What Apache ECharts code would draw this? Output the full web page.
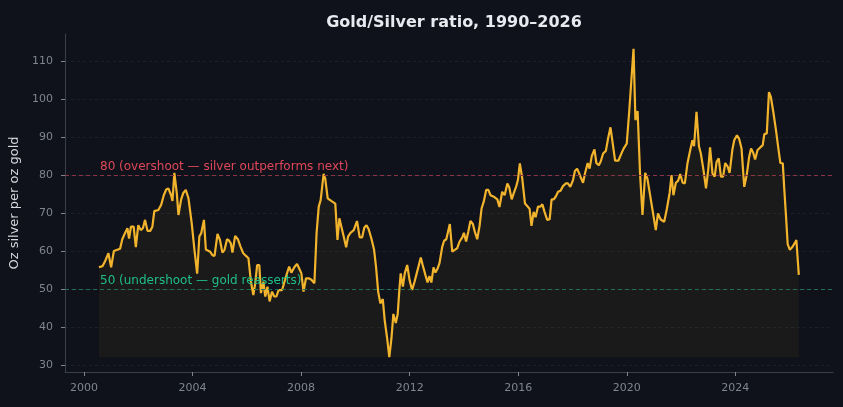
<!DOCTYPE html>
<html>
<head>
<meta charset="utf-8">
<title>Gold/Silver ratio</title>
<script src="https://cdn.jsdelivr.net/npm/echarts@6/dist/echarts.min.js"></script>
<style>
  html, body { margin: 0; padding: 0; background: #0f121a; }
  #chart { width: 843px; height: 407px; }
</style>
</head>
<body>
<div id="chart"></div>
<script>
// decimal years and the ratio
const years = [
  2000.55, 2000.68, 2000.77, 2000.90, 2001.00, 2001.10, 2001.17, 2001.33, 2001.41, 2001.51,
  2001.60, 2001.66, 2001.73, 2001.83, 2001.91, 2002.00, 2002.09, 2002.17, 2002.25, 2002.34,
  2002.44, 2002.52, 2002.59, 2002.74, 2002.84, 2002.94, 2003.03, 2003.11, 2003.21, 2003.26,
  2003.33, 2003.42, 2003.48, 2003.58, 2003.66, 2003.75, 2003.85, 2003.97, 2004.07, 2004.17,
  2004.25, 2004.32, 2004.42, 2004.49, 2004.56, 2004.65, 2004.73, 2004.81, 2004.92, 2005.01,
  2005.10, 2005.18, 2005.27, 2005.35, 2005.41, 2005.47, 2005.57, 2005.67, 2005.77, 2005.87,
  2005.97, 2006.06, 2006.15, 2006.24, 2006.31, 2006.38, 2006.46, 2006.52, 2006.61, 2006.68,
  2006.76, 2006.84, 2006.93, 2007.01, 2007.09, 2007.17, 2007.30, 2007.38, 2007.48, 2007.56,
  2007.64, 2007.75, 2007.85, 2007.93, 2008.01, 2008.09, 2008.18, 2008.28, 2008.38, 2008.49,
  2008.57, 2008.65, 2008.72, 2008.83, 2008.89, 2008.98, 2009.11, 2009.26, 2009.34, 2009.41,
  2009.48, 2009.57, 2009.66, 2009.73, 2009.82, 2009.94, 2010.06, 2010.16, 2010.25, 2010.33,
  2010.41, 2010.49, 2010.59, 2010.69, 2010.76, 2010.84, 2010.92, 2011.01, 2011.08, 2011.17,
  2011.25, 2011.33, 2011.40, 2011.49, 2011.56, 2011.62, 2011.67, 2011.75, 2011.82, 2011.91,
  2012.00, 2012.09, 2012.18, 2012.26, 2012.34, 2012.41, 2012.48, 2012.58, 2012.66, 2012.73,
  2012.80, 2012.88, 2012.95, 2013.03, 2013.10, 2013.20, 2013.27, 2013.35, 2013.42, 2013.48,
  2013.57, 2013.66, 2013.75, 2013.84, 2013.94, 2014.00, 2014.08, 2014.16, 2014.24, 2014.33,
  2014.40, 2014.49, 2014.58, 2014.65, 2014.73, 2014.82, 2014.90, 2014.98, 2015.10, 2015.23,
  2015.31, 2015.41, 2015.50, 2015.60, 2015.67, 2015.76, 2015.84, 2015.93, 2015.99, 2016.06,
  2016.15, 2016.25, 2016.34, 2016.42, 2016.49, 2016.57, 2016.64, 2016.73, 2016.82, 2016.89,
  2016.97, 2017.07, 2017.16, 2017.23, 2017.31, 2017.38, 2017.47, 2017.56, 2017.65, 2017.75,
  2017.83, 2017.92, 2018.02, 2018.09, 2018.17, 2018.24, 2018.31, 2018.39, 2018.46, 2018.56,
  2018.63, 2018.71, 2018.81, 2018.88, 2018.97, 2019.04, 2019.13, 2019.23, 2019.31, 2019.40,
  2019.48, 2019.57, 2019.69, 2019.74, 2019.82, 2019.90, 2020.00, 2020.09, 2020.17, 2020.25,
  2020.32, 2020.40, 2020.49, 2020.58, 2020.68, 2020.76, 2020.85, 2020.95, 2021.07, 2021.15,
  2021.25, 2021.38, 2021.48, 2021.58, 2021.65, 2021.72, 2021.81, 2021.89, 2021.97, 2022.06,
  2022.14, 2022.24, 2022.34, 2022.42, 2022.48, 2022.57, 2022.66, 2022.73, 2022.82, 2022.92,
  2023.00, 2023.07, 2023.16, 2023.24, 2023.31, 2023.39, 2023.47, 2023.55, 2023.63, 2023.72,
  2023.79, 2023.89, 2023.96, 2024.06, 2024.14, 2024.23, 2024.33, 2024.42, 2024.51, 2024.58,
  2024.66, 2024.73, 2024.82, 2024.92, 2025.01, 2025.07, 2025.16, 2025.24, 2025.31, 2025.40,
  2025.50, 2025.58, 2025.66, 2025.75, 2025.80, 2025.87, 2025.93, 2026.01, 2026.11, 2026.20,
  2026.25, 2026.34
];
const ratio = [
  55.7, 56.0, 57.2, 59.4, 55.7, 60.0, 60.5, 60.6, 63.1, 64.7,
  66.0, 63.3, 66.4, 66.4, 61.0, 66.8, 65.5, 66.0, 68.2, 65.3,
  65.3, 66.4, 70.5, 70.8, 72.1, 74.7, 76.2, 76.5, 74.7, 73.2,
  80.6, 75.2, 69.5, 73.6, 75.3, 76.1, 73.9, 67.3, 60.3, 54.0,
  63.8, 64.7, 68.2, 60.4, 60.7, 59.8, 58.9, 58.7, 64.5, 62.9,
  59.6, 60.3, 63.1, 62.7, 62.0, 59.6, 64.0, 63.1, 61.1, 59.4,
  58.7, 58.1, 51.9, 48.4, 51.5, 56.3, 56.3, 48.9, 51.9, 48.0,
  50.6, 46.7, 49.3, 48.0, 48.0, 49.7, 49.7, 51.7, 54.1, 55.9,
  54.3, 55.7, 56.6, 55.4, 54.1, 49.3, 52.8, 52.8, 52.4, 51.5,
  64.7, 71.7, 73.4, 80.3, 79.1, 73.9, 73.2, 72.5, 62.9, 68.6,
  68.6, 63.8, 61.0, 63.8, 64.8, 65.5, 67.9, 63.6, 63.6, 66.2,
  66.8, 65.7, 63.3, 60.3, 55.9, 49.3, 46.2, 47.3, 41.8, 37.0,
  32.0, 37.0, 43.4, 41.0, 43.4, 49.7, 54.1, 50.6, 54.1, 56.3,
  52.2, 49.7, 51.9, 54.1, 56.3, 58.3, 56.3, 53.7, 51.7, 53.4,
  51.7, 55.7, 54.3, 55.4, 56.8, 61.1, 62.7, 63.1, 63.1, 67.1,
  59.8, 60.3, 60.7, 62.5, 63.6, 64.8, 62.5, 65.1, 67.9, 67.1,
  65.1, 63.1, 66.8, 71.2, 73.0, 76.1, 76.1, 74.7, 74.3, 73.6,
  71.6, 75.6, 74.7, 77.8, 76.8, 73.6, 75.3, 77.1, 78.7, 83.1,
  79.1, 72.5, 71.8, 71.1, 66.6, 70.3, 68.9, 71.7, 71.7, 72.3,
  70.3, 68.2, 68.4, 73.6, 73.6, 74.3, 75.6, 75.9, 77.1, 77.8,
  77.8, 76.9, 78.7, 81.1, 81.7, 80.6, 79.3, 78.0, 80.4, 83.2,
  81.7, 85.0, 86.8, 83.2, 82.6, 83.6, 85.7, 86.4, 89.6, 92.6,
  88.5, 83.8, 83.8, 84.1, 86.0, 87.2, 88.3, 96.7, 105.0, 113.3,
  94.5, 96.9, 80.4, 69.5, 80.6, 79.1, 75.2, 70.8, 65.5, 69.9,
  68.3, 67.7, 71.2, 75.3, 80.0, 74.7, 78.0, 78.5, 80.3, 78.0,
  77.8, 83.2, 86.6, 89.2, 87.6, 96.7, 87.6, 85.7, 81.7, 76.5,
  81.3, 87.3, 80.4, 79.6, 83.5, 84.4, 79.6, 79.6, 83.2, 82.2,
  80.6, 86.6, 89.2, 90.5, 89.6, 87.0, 76.9, 80.0, 84.8, 87.0,
  85.9, 84.1, 86.6, 87.3, 87.9, 90.8, 91.0, 101.9, 100.6, 96.7,
  91.8, 87.4, 83.2, 83.1, 76.9, 69.0, 61.8, 60.3, 61.1, 62.2,
  62.9, 53.7
];

const xTicks = [2000, 2004, 2008, 2012, 2016, 2020, 2024];
const yTicks = [30, 40, 50, 60, 70, 80, 90, 100, 110];

const overshoot = 80;
const undershoot = 50;
const overshootLabel = '80 (overshoot — silver outperforms next)';
const undershootLabel = '50 (undershoot — gold reasserts)';

const chart = echarts.init(document.getElementById('chart'));

const tickColor = '#80858f';
const axisColor = '#3a3f4a';

chart.setOption({
  animation: false,
  backgroundColor: '#0f121a',
  textStyle: { fontFamily: 'DejaVu Sans' },
  title: {
    text: 'Gold/Silver ratio, 1990–2026',
    left: 449,
    textAlign: 'center',
    top: 10,
    textStyle: { color: '#e8eaf0', fontSize: 16, fontWeight: 'bold', fontFamily: 'DejaVu Sans' }
  },
  grid: { left: 65, right: 10, top: 34, bottom: 35 },
  xAxis: {
    type: 'value',
    min: 1999.3,
    max: 2027.6,
    axisLine: { lineStyle: { color: axisColor } },
    axisTick: { customValues: xTicks, length: 4, lineStyle: { color: tickColor } },
    axisLabel: { customValues: xTicks, color: tickColor, fontSize: 11, margin: 11, formatter: v => String(v) },
    splitLine: { show: false }
  },
  yAxis: {
    type: 'value',
    min: 28.1,
    max: 117.2,
    name: 'Oz silver per oz gold',
    nameLocation: 'middle',
    nameGap: 39,
    nameTextStyle: { color: '#d5d8de', fontSize: 13 },
    axisLine: { show: true, lineStyle: { color: axisColor } },
    axisTick: { show: true, customValues: yTicks, length: 4, lineStyle: { color: tickColor } },
    axisLabel: { customValues: yTicks, color: tickColor, fontSize: 11, margin: 12 },
    splitLine: { show: true, lineStyle: { color: '#1b2029', type: [3, 3], width: 1 } }
  },
  series: [
    {
      name: 'Gold/Silver ratio',
      type: 'line',
      data: years.map((y, i) => [y, ratio[i]]),
      showSymbol: false,
      lineStyle: { color: '#f2b42c', width: 2.2 },
      itemStyle: { color: '#f2b42c' },
      areaStyle: { color: 'rgba(242,180,44,0.07)', origin: Math.min(...ratio) },
      markLine: {
        silent: true,
        symbol: 'none',
        data: [
          {
            yAxis: overshoot,
            lineStyle: { color: '#8a3444', type: [4, 3], width: 1, opacity: 1 },
            label: {
              formatter: overshootLabel, position: 'insideStartTop', distance: 2,
              padding: [0, 0, 0, 33], color: '#e0475a', fontSize: 12
            }
          },
          {
            yAxis: undershoot,
            lineStyle: { color: '#1f6e55', type: [4, 3], width: 1, opacity: 1 },
            label: {
              formatter: undershootLabel, position: 'insideStartTop', distance: 2,
              padding: [0, 0, 0, 33], color: '#1fbf87', fontSize: 12
            }
          }
        ]
      }
    }
  ]
});
</script>
</body>
</html>
